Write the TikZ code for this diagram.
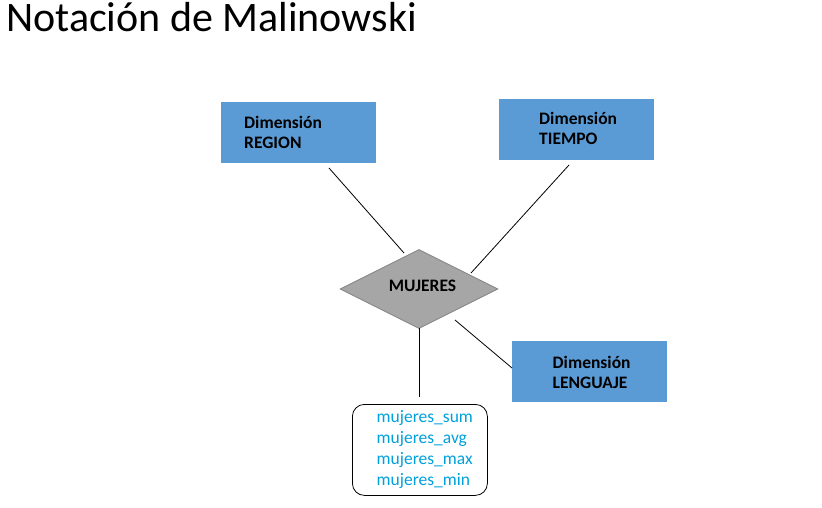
\documentclass[tikz,border=0pt]{standalone}
\usepackage{fontspec}
\setmainfont{Carlito}
\usetikzlibrary{shapes.geometric}
\definecolor{dimblue}{HTML}{5B9BD5}
\definecolor{factgray}{HTML}{A6A6A6}
\definecolor{factedge}{HTML}{808080}
\definecolor{measblue}{RGB}{0,160,220}
\tikzset{
  dimbox/.style={fill=dimblue, draw=none, minimum width=155pt, minimum height=61pt, inner sep=0pt, anchor=north west},
  dimtext/.style={font=\fontsize{17.5}{20}\selectfont\bfseries, anchor=base west, inner sep=0pt},
  meastext/.style={font=\fontsize{17.5}{20}\selectfont, text=measblue, anchor=base west, inner sep=0pt},
  conn/.style={draw=black, line width=0.8pt},
}
\begin{document}
\begin{tikzpicture}[x=1pt,y=-1pt]
\useasboundingbox (0,0) rectangle (822,508);
\node[anchor=base west, inner sep=0pt, font=\fontsize{42}{44}\selectfont] (title) at (6,32) {Notación de Malinowski};

\node[dimbox] (region) at (221,102) {};
\node[dimtext] (regiona) at (244,128.3) {Dimensión};
\node[dimtext] (regionb) at (244,148.3) {REGION};
\node[dimbox] (tiempo) at (499,99) {};
\node[dimtext] (tiempoa) at (539,124.3) {Dimensión};
\node[dimtext] (tiempob) at (539,144.3) {TIEMPO};
\node[dimbox] (lenguaje) at (512,341) {};
\node[dimtext] (lenguajea) at (552.5,368.5) {Dimensión};
\node[dimtext] (lenguajeb) at (552.5,388.3) {LENGUAJE};

\node[diamond, aspect=2, fill=factgray, draw=factedge, line width=0.8pt, minimum width=158pt, minimum height=79pt, inner sep=0pt] (mujeres) at (419,289) {};
\node[anchor=base, inner sep=0pt, font=\fontsize{17.5}{20}\selectfont\bfseries] (mujerest) at (422.5,291.5) {MUJERES};

\node[draw=black, line width=0.8pt, rounded corners=12pt, minimum width=135pt, minimum height=91pt, anchor=north west] (medidas) at (352,404) {};
\node[meastext] (ma) at (376.5,422) {mujeres\_sum};
\node[meastext] (mb) at (376.5,443.5) {mujeres\_avg};
\node[meastext] (mc) at (376.5,464.5) {mujeres\_max};
\node[meastext] (md) at (376.5,485.5) {mujeres\_min};

\coordinate (r1) at (329,168);
\coordinate (r2) at (404,253);
\coordinate (t1) at (569,165);
\coordinate (t2) at (471,273);
\coordinate (l1) at (455,320);
\coordinate (l2) at (512,368);
\coordinate (m1) at (419,328);
\coordinate (m2) at (419,397);
\draw[conn] (r1) -- (r2);
\draw[conn] (t1) -- (t2);
\draw[conn] (l1) -- (l2);
\draw[conn] (m1) -- (m2);
\end{tikzpicture}
\end{document}
